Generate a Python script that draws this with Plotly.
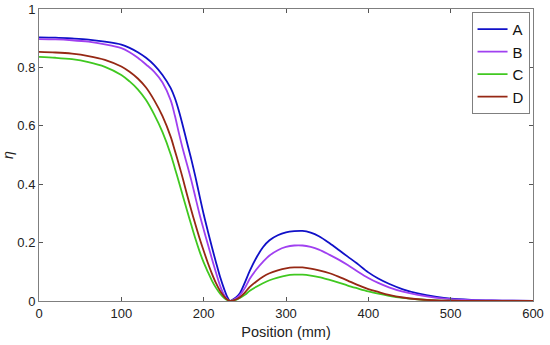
import plotly.graph_objects as go

x_pos = [0, 20, 40, 60, 80, 100, 110, 120, 130, 140, 150, 160, 165, 170, 175, 180, 185, 190,
         195, 200, 205, 210, 215, 220, 225, 229, 232, 236, 240, 244, 250, 256, 264, 272, 280,
         290, 300, 310, 320, 330, 340, 353, 365, 375, 386, 400, 412, 425, 442, 460, 483, 500,
         525, 550, 575, 600]

eta_A = [0.903, 0.902, 0.899, 0.895, 0.888, 0.878, 0.867, 0.852, 0.833, 0.808, 0.774, 0.729, 0.695,
         0.65, 0.597, 0.54, 0.485, 0.425, 0.36, 0.297, 0.24, 0.185, 0.132, 0.082, 0.04, 0.012, 0.0,
         0.006, 0.014, 0.027, 0.063, 0.103, 0.148, 0.184, 0.208, 0.225, 0.235, 0.239, 0.24, 0.234,
         0.222, 0.198, 0.173, 0.152, 0.129, 0.098, 0.077, 0.059, 0.04, 0.026, 0.014, 0.008,
         0.004, 0.002, 0.001, 0.0]

eta_B = [0.897, 0.896, 0.893, 0.888, 0.879, 0.866, 0.852, 0.833, 0.81, 0.785, 0.748, 0.687, 0.635,
         0.574, 0.517, 0.466, 0.413, 0.355, 0.297, 0.245, 0.195, 0.145, 0.097, 0.052, 0.02, 0.005,
         0.0, 0.004, 0.01, 0.02, 0.044, 0.076, 0.108, 0.134, 0.156, 0.174, 0.185, 0.19, 0.19, 0.185,
         0.176, 0.158, 0.14, 0.123, 0.103, 0.079, 0.062, 0.047, 0.032, 0.021, 0.011, 0.006,
         0.003, 0.002, 0.001, 0.0]

eta_C = [0.836, 0.833, 0.828, 0.818, 0.802, 0.774, 0.752, 0.725, 0.688, 0.638, 0.578, 0.502, 0.455,
         0.407, 0.357, 0.308, 0.26, 0.213, 0.17, 0.132, 0.1, 0.07, 0.045, 0.025, 0.01, 0.003, 0.0,
         0.002, 0.005, 0.01, 0.021, 0.035, 0.049, 0.061, 0.071, 0.08, 0.087, 0.09, 0.09, 0.087,
         0.082, 0.072, 0.062, 0.053, 0.044, 0.033, 0.025, 0.018, 0.011, 0.006, 0.002, 0.001,
         0.0005, 0.0, 0.0, 0.0]

eta_D = [0.853, 0.851, 0.847, 0.839, 0.826, 0.803, 0.785, 0.762, 0.731, 0.687, 0.633, 0.562, 0.515,
         0.467, 0.416, 0.362, 0.311, 0.262, 0.215, 0.172, 0.131, 0.094, 0.061, 0.034, 0.015, 0.004, 0.0,
         0.002, 0.006, 0.013, 0.029, 0.048, 0.067, 0.083, 0.095, 0.105, 0.112, 0.115, 0.115, 0.111,
         0.105, 0.095, 0.082, 0.07, 0.056, 0.041, 0.031, 0.021, 0.012, 0.006, 0.002, 0.001,
         0.0005, 0.0, 0.0, 0.0]

series_names = ["A", "B", "C", "D"]
series_values = [eta_A, eta_B, eta_C, eta_D]
series_colors = ["#1010C8", "#A040F0", "#40C820", "#962814"]

x_ticks = [0, 100, 200, 300, 400, 500, 600]
y_ticks = [0, 0.2, 0.4, 0.6, 0.8, 1]
y_tick_labels = ["0", "0.2", "0.4", "0.6", "0.8", "1"]

fig = go.Figure()
for name, vals, col in zip(series_names, series_values, series_colors):
    fig.add_trace(go.Scatter(x=x_pos, y=vals, name=name, mode="lines",
                             line=dict(color=col, width=1.8, shape="spline", smoothing=0.9)))

FONT = "Liberation Sans, Arial, sans-serif"
axis_common = dict(showline=True, linecolor="#7f7f7f", linewidth=1, mirror="allticks",
                   ticks="inside", ticklen=4, tickcolor="#555555", showgrid=False,
                   zeroline=False, automargin=False,
                   tickfont=dict(family=FONT, size=13, color="#222222"))

fig.update_layout(
    width=550, height=345,
    margin=dict(l=39, r=17, t=9, b=44),
    paper_bgcolor="white", plot_bgcolor="white",
    font=dict(family=FONT, size=13, color="#222222"),
    xaxis=dict(range=[0, 600], tickvals=x_ticks,
               title=dict(text="Position (mm)", font=dict(family=FONT, size=14.5), standoff=7),
               **axis_common),
    yaxis=dict(range=[0, 1], tickvals=y_ticks, ticktext=y_tick_labels,
               title=dict(text="<i>η</i>", font=dict(family=FONT, size=14), standoff=5),
               **axis_common),
    legend=dict(x=0.993, y=0.99, xanchor="right", yanchor="top",
                bordercolor="#7f7f7f", borderwidth=1, bgcolor="white",
                font=dict(family=FONT, size=15, color="#111111"), tracegroupgap=0,
                itemwidth=30),
    showlegend=True,
)

fig.write_html("out.html", config={"displayModeBar": False},
               post_script="document.body.style.margin='0';")
